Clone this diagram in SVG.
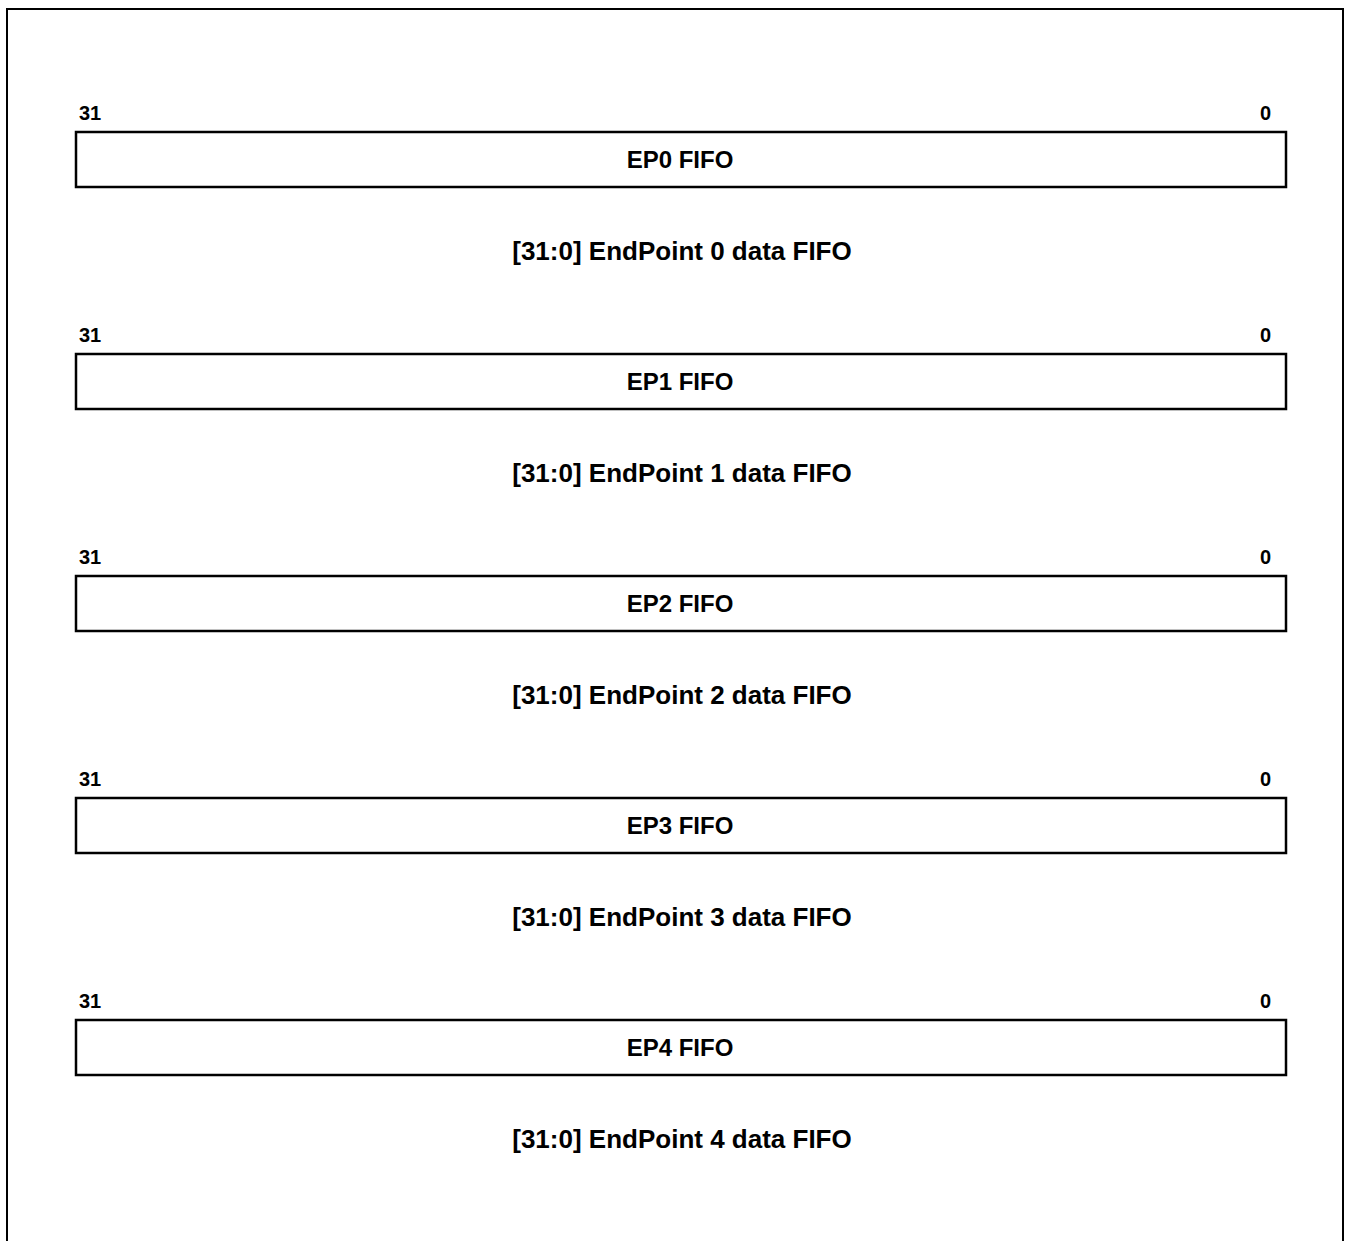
<svg xmlns="http://www.w3.org/2000/svg" width="1348" height="1241" viewBox="0 0 1348 1241">
<style>
text{font-family:"Liberation Sans",Arial,sans-serif;font-weight:bold;fill:#000}
.bit{font-size:20px}
.name{font-size:24px;text-anchor:middle}
.desc{font-size:26px;text-anchor:middle}
.box{fill:#fff;stroke:#000;stroke-width:2.5}
</style>
<rect x="0" y="0" width="1348" height="1241" fill="#fff"/>
<rect x="7" y="9" width="1336" height="1250" fill="none" stroke="#000" stroke-width="2"/>
<g id="reg0">
<text class="bit" x="79" y="120">31</text>
<text class="bit" x="1260" y="120">0</text>
<rect class="box" x="76" y="132" width="1210" height="55"/>
<text class="name" x="680" y="168">EP0 FIFO</text>
<text class="desc" x="682" y="260">[31:0] EndPoint 0 data FIFO</text>
</g>
<g id="reg1">
<text class="bit" x="79" y="342">31</text>
<text class="bit" x="1260" y="342">0</text>
<rect class="box" x="76" y="354" width="1210" height="55"/>
<text class="name" x="680" y="390">EP1 FIFO</text>
<text class="desc" x="682" y="482">[31:0] EndPoint 1 data FIFO</text>
</g>
<g id="reg2">
<text class="bit" x="79" y="564">31</text>
<text class="bit" x="1260" y="564">0</text>
<rect class="box" x="76" y="576" width="1210" height="55"/>
<text class="name" x="680" y="612">EP2 FIFO</text>
<text class="desc" x="682" y="704">[31:0] EndPoint 2 data FIFO</text>
</g>
<g id="reg3">
<text class="bit" x="79" y="786">31</text>
<text class="bit" x="1260" y="786">0</text>
<rect class="box" x="76" y="798" width="1210" height="55"/>
<text class="name" x="680" y="834">EP3 FIFO</text>
<text class="desc" x="682" y="926">[31:0] EndPoint 3 data FIFO</text>
</g>
<g id="reg4">
<text class="bit" x="79" y="1008">31</text>
<text class="bit" x="1260" y="1008">0</text>
<rect class="box" x="76" y="1020" width="1210" height="55"/>
<text class="name" x="680" y="1056">EP4 FIFO</text>
<text class="desc" x="682" y="1148">[31:0] EndPoint 4 data FIFO</text>
</g>
<g id="connectors"/>
</svg>
